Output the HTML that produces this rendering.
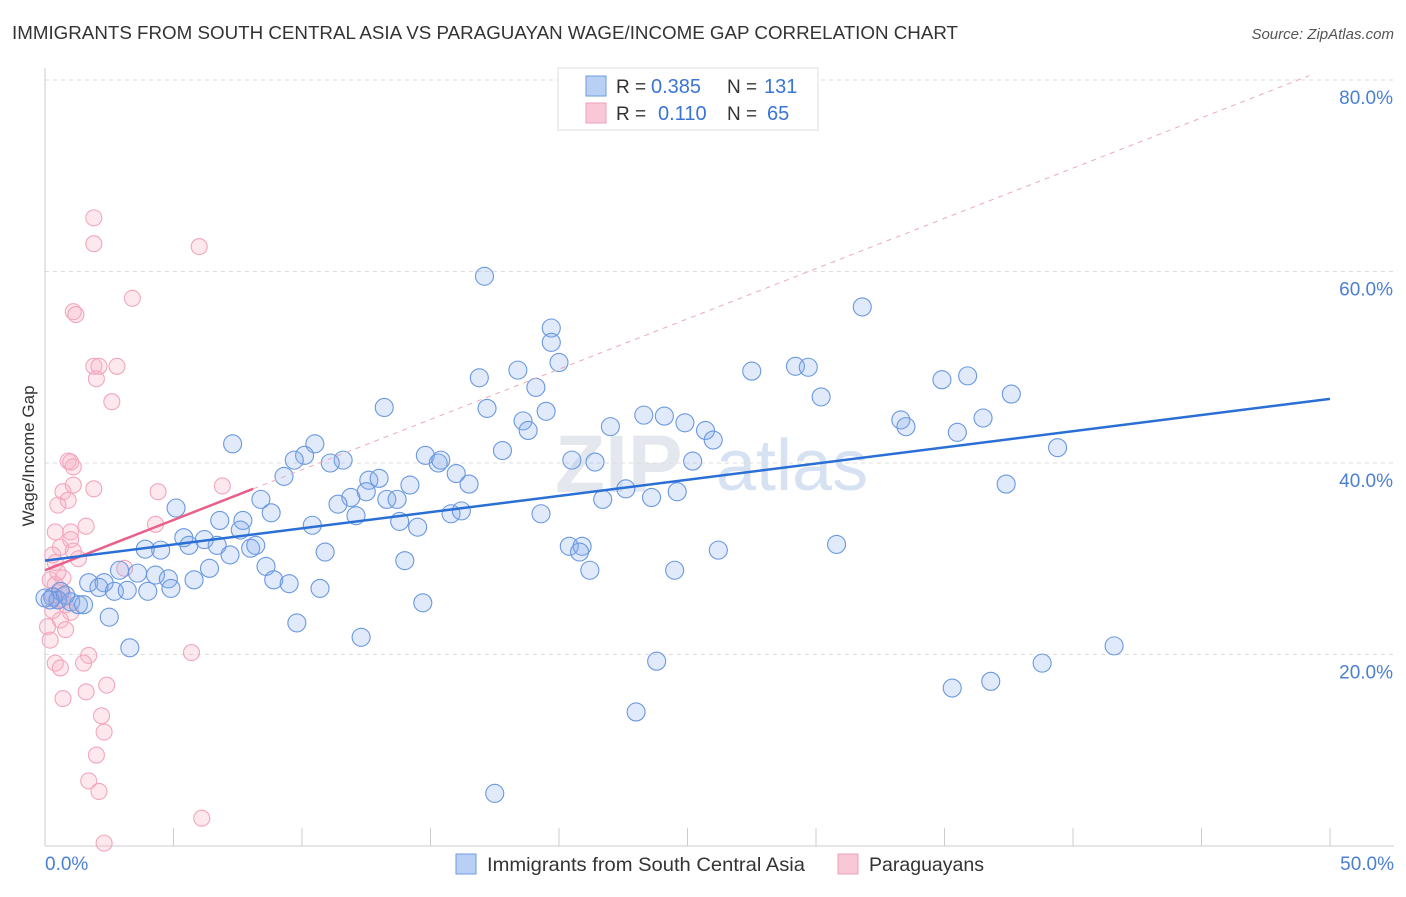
<!DOCTYPE html>
<html><head><meta charset="utf-8"><style>
body{margin:0;background:#fff;font-family:"Liberation Sans",sans-serif}
svg text{font-family:"Liberation Sans",sans-serif}
</style></head><body>
<svg id="c" width="1406" height="892">
<text x="12" y="39" font-size="18" fill="#333" textLength="946" lengthAdjust="spacingAndGlyphs">IMMIGRANTS FROM SOUTH CENTRAL ASIA VS PARAGUAYAN WAGE/INCOME GAP CORRELATION CHART</text>
<text x="1394" y="39" font-size="15" fill="#555" text-anchor="end" font-style="italic">Source: ZipAtlas.com</text>
<text x="555" y="492" font-size="82" fill="#e4e8ee" font-weight="bold">ZIP</text>
<text x="716" y="490" font-size="72" fill="#d6e2f2">atlas</text>
<g id="grid"></g><g id="ticks"></g><g id="pts"></g><g id="trend"></g>
<text transform="translate(34,456) rotate(-90)" font-size="17" fill="#333" text-anchor="middle">Wage/Income Gap</text>
<text x="45" y="870" font-size="19" fill="#4a7fd4">0.0%</text>
<text x="1394" y="870" font-size="19" fill="#4a7fd4" text-anchor="end">50.0%</text>
<g>
<rect x="558" y="68" width="260" height="62" fill="#fff" stroke="#ddd"/>
<rect x="586" y="76" width="20" height="20" fill="#b8d0f4" stroke="#6f9be0"/>
<rect x="586" y="103" width="20" height="20" fill="#f8c8d6" stroke="#f0a0b8"/>
<text x="616" y="93" font-size="19" fill="#333">R =</text>
<text x="651" y="93" font-size="20" fill="#3a74d6">0.385</text>
<text x="727" y="93" font-size="19" fill="#333">N =</text>
<text x="764" y="93" font-size="20" fill="#3a74d6">131</text>
<text x="616" y="120" font-size="19" fill="#333">R =</text>
<text x="658" y="120" font-size="20" fill="#3a74d6">0.110</text>
<text x="727" y="120" font-size="19" fill="#333">N =</text>
<text x="767" y="120" font-size="20" fill="#3a74d6">65</text>
</g>
<g>
<rect x="456" y="854" width="20" height="20" fill="#b8d0f4" stroke="#6f9be0"/>
<text x="487" y="871" font-size="19.5" fill="#333" textLength="318" lengthAdjust="spacingAndGlyphs">Immigrants from South Central Asia</text>
<rect x="838" y="854" width="20" height="20" fill="#f8c8d6" stroke="#f0a0b8"/>
<text x="869" y="871" font-size="19.5" fill="#333" textLength="115" lengthAdjust="spacingAndGlyphs">Paraguayans</text>
</g>
</svg>
<script>
const yTicks=[20,40,60,80];
const yTickLabels=["20.0%","40.0%","60.0%","80.0%"];
const xTicks=[0,5,10,15,20,25,30,35,40,45,50];
const blueX=[17.1,31.8,19.7,19.7,20.0,18.4,16.9,19.1,27.5,29.2,29.7,34.9,35.9,37.6,30.2,13.2,17.2,19.5,18.6,18.8,22.0,23.3,24.1,24.9,25.7,26.0,33.3,33.5,35.5,36.5,39.4,7.3,10.5,10.1,9.7,11.6,11.1,14.8,15.3,15.4,17.8,20.5,21.4,25.2,9.3,12.6,13.0,16.0,16.5,14.2,13.3,13.7,11.9,11.4,12.5,22.6,23.6,24.6,37.4,21.7,8.4,5.1,8.8,6.8,7.7,7.6,12.1,13.8,14.5,15.8,16.2,19.3,10.4,5.4,5.6,6.2,6.7,7.2,8.0,8.2,4.5,3.9,10.9,20.4,20.9,20.8,26.2,30.8,6.4,14.0,8.6,21.2,24.5,2.9,4.3,3.6,4.8,5.8,8.9,9.5,10.7,1.7,2.3,2.1,2.7,3.2,4.0,4.9,0.6,0.3,0.5,1.0,1.3,1.5,0.2,0.8,0.0,2.5,3.3,9.8,12.3,14.7,23.8,41.6,38.8,35.3,36.8,23.0,17.5];
const blueY=[59.5,56.3,54.1,52.6,50.5,49.7,48.9,47.9,49.6,50.1,50.0,48.7,49.1,47.2,46.9,45.8,45.7,45.4,44.4,43.4,43.8,45.0,44.9,44.2,43.4,42.4,44.5,43.8,43.2,44.7,41.6,42.0,42.0,40.8,40.3,40.3,40.0,40.8,40.0,40.3,41.3,40.3,40.1,40.2,38.6,38.2,38.4,38.9,37.8,37.7,36.2,36.2,36.4,35.7,37.0,37.3,36.4,37.0,37.8,36.2,36.2,35.3,34.8,34.0,34.0,33.0,34.5,33.9,33.3,34.7,35.0,34.7,33.5,32.2,31.4,32.0,31.4,30.4,31.1,31.4,30.9,31.0,30.7,31.3,31.3,30.7,30.9,31.5,29.0,29.8,29.2,28.8,28.8,28.8,28.3,28.5,27.9,27.8,27.8,27.4,26.9,27.5,27.5,27.0,26.6,26.7,26.6,26.9,26.6,26.0,25.7,25.5,25.2,25.2,25.7,26.2,25.9,23.9,20.7,23.3,21.8,25.4,19.3,20.9,19.1,16.5,17.2,14.0,5.5];
const pinkX=[1.9,1.9,6.0,3.4,1.1,1.2,1.9,2.1,2.8,2.0,2.6,0.9,1.0,1.1,0.7,1.9,1.1,0.9,0.5,4.4,6.9,4.3,1.0,1.6,0.4,1.0,0.6,1.1,0.3,1.3,0.4,3.1,0.2,0.4,0.6,0.3,0.7,0.5,0.8,1.0,0.6,0.8,0.1,0.2,1.7,0.4,1.5,0.6,5.7,2.4,1.6,0.7,2.2,2.3,2.0,1.7,2.1,6.1,2.3,0.3,0.7,0.5];
const pinkY=[65.6,62.9,62.6,57.2,55.8,55.5,50.1,50.1,50.1,48.8,46.4,40.2,40.1,39.6,37.0,37.3,37.7,36.1,35.6,37.0,37.6,33.6,32.8,33.4,32.8,32.0,31.2,30.8,30.4,30.0,29.6,29.0,27.8,27.3,26.7,26.2,26.2,25.7,25.2,24.4,23.6,22.6,22.9,21.5,19.9,19.1,19.1,18.6,20.2,16.8,16.1,15.4,13.6,11.9,9.5,6.8,5.7,2.9,0.3,24.6,28.0,28.6];
const blueTrend=[29.8,46.7];   // y at x=0, x=50
const pinkTrend=[28.8,1.05];   // intercept, slope
const NS="http://www.w3.org/2000/svg";
const X=v=>45+v*25.7, Y=v=>846-v*9.575;
function mk(t,a,p){const e=document.createElementNS(NS,t);for(const k in a)e.setAttribute(k,a[k]);p.appendChild(e);return e;}
const g=document.getElementById('grid');
yTicks.forEach((t,i)=>{
 const l=mk('line',{x1:45,x2:1394,y1:Y(t),y2:Y(t),stroke:'#ddd','stroke-dasharray':'4,4'},g);
 
 
 const tx=mk('text',{x:1393,y:Y(t)+24,'font-size':19,fill:'#4a7fd4','text-anchor':'end'},g);
 tx.textContent=yTickLabels[i];
 
 
});
const tk=document.getElementById('ticks');
const ax=mk('line',{x1:45,x2:45,y1:68,y2:846,stroke:'#ccc'},tk);


const bx=mk('line',{x1:45,x2:1394,y1:846,y2:846,stroke:'#ccc'},tk);


xTicks.forEach(t=>{const l=mk('line',{x1:X(t),x2:X(t),y1:828,y2:846,stroke:'#ccc'},tk);
 
 });
const pg=document.getElementById('pts');
pinkX.forEach((v,i)=>{const c=mk('circle',{cx:X(v),cy:Y(pinkY[i]),r:8,fill:'rgba(248,180,200,0.3)',stroke:'#f2a6bd','stroke-width':1.1},pg);
 
 });
blueX.forEach((v,i)=>{const c=mk('circle',{cx:X(v),cy:Y(blueY[i]),r:9,fill:'rgba(130,170,235,0.25)',stroke:'#6a98e0','stroke-width':1.1},pg);
 
 });
const tg=document.getElementById('trend');
const pd=mk('line',{x1:X(8.1),y1:Y(pinkTrend[0]+pinkTrend[1]*8.1),x2:X(49.2),y2:Y(pinkTrend[0]+pinkTrend[1]*49.2),stroke:'#eba9bd','stroke-dasharray':'5,5'},tg);


const pl=mk('line',{x1:X(0),y1:Y(pinkTrend[0]),x2:X(8.1),y2:Y(pinkTrend[0]+pinkTrend[1]*8.1),stroke:'#e8608a','stroke-width':2.5},tg);


const bl=mk('line',{x1:X(0),y1:Y(blueTrend[0]),x2:X(50),y2:Y(blueTrend[1]),stroke:'#2a6fd6','stroke-width':2.5},tg);


</script>
</body></html>
